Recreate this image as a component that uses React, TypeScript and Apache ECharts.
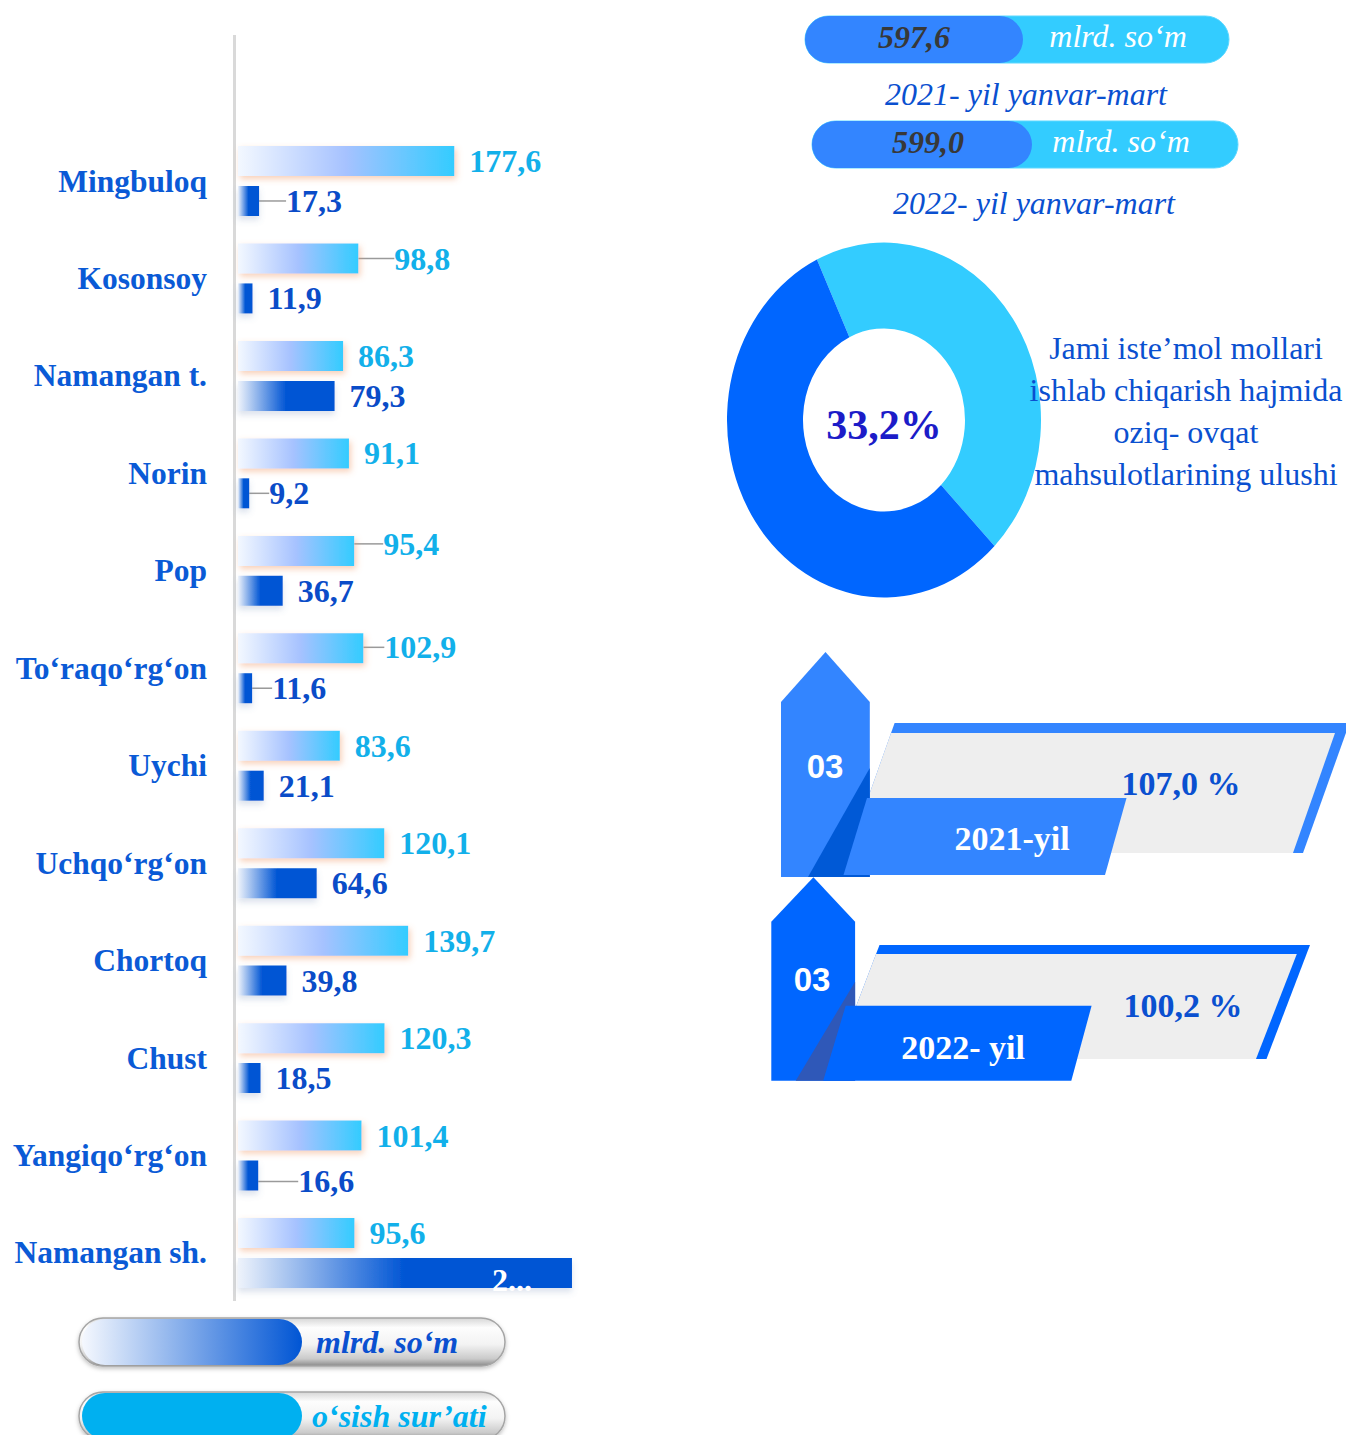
import React, { useEffect, useRef } from 'react';
import * as echarts from 'echarts';

// ---------- data ----------
const categories = [
  'Mingbuloq', 'Kosonsoy', 'Namangan t.', 'Norin', 'Pop', 'To‘raqo‘rg‘on',
  'Uychi', 'Uchqo‘rg‘on', 'Chortoq', 'Chust', 'Yangiqo‘rg‘on', 'Namangan sh.',
];
const growthRate = [177.6, 98.8, 86.3, 91.1, 95.4, 102.9, 83.6, 120.1, 139.7, 120.3, 101.4, 95.6];
const volume = [17.3, 11.9, 79.3, 9.2, 36.7, 11.6, 21.1, 64.6, 39.8, 18.5, 16.6, 274.2];
const legendNames = ['mlrd. so‘m', 'o‘sish sur’ati'];

const shareSlices = [44.6, 55.4]; // light slice, dark slice (as drawn)
const shareLabel = '33,2%';
const shareCaption = ['Jami iste’mol mollari', 'ishlab chiqarish hajmida', 'oziq- ovqat', 'mahsulotlarining ulushi'];

const periodTotals = [597.6, 599.0];
const periodNames = ['2021- yil yanvar-mart', '2022- yil yanvar-mart'];
const unitText = 'mlrd. so‘m';

const monthLabel = '03';
const yearNames = ['2021-yil', '2022- yil'];
const yearRates = [107.0, 100.2];

// label shifts (styling of leader lines), kept apart from the data
const growthShift: Record<number, [number, number]> = { 1: [21, 0], 4: [14, -7], 5: [6, -1] };
const volumeShift: Record<number, [number, number]> = { 0: [12, 0], 3: [5, 0], 5: [5, 0], 10: [25, 6], 11: [0, 7] };

const SERIF = '"Liberation Serif","Times New Roman",serif';
const SANS = '"Liberation Sans",Arial,sans-serif';
const fmt = (v: number) => v.toFixed(1).replace('.', ',');

const txt = (x: number, y: number, text: string, size: number, fill: string, weight = 'normal', fstyle = 'normal', family = SERIF, extra: any = {}) => ({
  type: 'text', x, y, z: 10,
  style: { text, fill, fontSize: size, fontWeight: weight, fontStyle: fstyle, fontFamily: family, align: 'center', verticalAlign: 'middle', ...extra },
});
const poly = (points: number[][], fill: string, z = 5) => ({ type: 'polygon', z, shape: { points }, style: { fill } });

export default function App() {
  const mainRef = useRef<HTMLDivElement>(null);
  const donutRef = useRef<HTMLDivElement>(null);

  useEffect(() => {
    document.body.style.margin = '0';
    const donut = echarts.init(donutRef.current!, null, { renderer: 'svg', width: 400, height: 400 });
    donut.setOption({
      animation: false,
      series: [{
        type: 'pie', radius: [81, 157], center: ['50%', '50%'], startAngle: 115.3, clockwise: true,
        silent: true, label: { show: false }, labelLine: { show: false },
        data: [
          { value: shareSlices[0], name: 'a', itemStyle: { color: '#33ccff' } },
          { value: shareSlices[1], name: 'b', itemStyle: { color: '#0066ff' } },
        ],
      }],
    });

    const chart = echarts.init(mainRef.current!, null, { renderer: 'svg', width: 1346, height: 1435 });

    const growthGrad = new echarts.graphic.LinearGradient(0, 0, 1, 0, [
      { offset: 0, color: '#f3f8ff' }, { offset: 0.5, color: '#a6c2ff' }, { offset: 1, color: '#33ccff' },
    ]);
    const volGrad = new echarts.graphic.LinearGradient(0, 0, 1, 0, [
      { offset: 0, color: '#eef3fb' }, { offset: 0.5, color: '#0055d4' }, { offset: 1, color: '#0055d4' },
    ]);
    const legendDarkGrad = new echarts.graphic.LinearGradient(0, 0, 1, 0, [
      { offset: 0, color: '#f5f8fe' }, { offset: 1, color: '#0055d4' },
    ]);
    const PILL = 'path://M23 0H197A23 23 0 0 1 197 46H23A23 23 0 0 1 23 0Z';

    const glossy = (y: number) => ({
      type: 'rect', z: 0, shape: { x: 79, y, width: 426, height: 48, r: 24 },
      style: {
        fill: new echarts.graphic.LinearGradient(0, 0, 0, 1, [
          { offset: 0, color: '#d6d6d6' }, { offset: 0.2, color: '#fdfdfd' }, { offset: 0.55, color: '#f3f3f3' },
          { offset: 0.85, color: '#cacaca' }, { offset: 1, color: '#8a8a8a' },
        ]),
        stroke: '#a5a5a5', lineWidth: 1.5, shadowBlur: 4, shadowColor: 'rgba(0,0,0,0.25)', shadowOffsetY: 2,
      },
    });

    const pill = (x0: number, y0: number, w: number, split: number, value: number, vx: number, ux: number) => [
      { type: 'rect', z: 5, shape: { x: x0, y: y0, width: w, height: 47, r: 23.5 }, style: { fill: '#33ccff', stroke: '#5cd8ff', lineWidth: 1 } },
      { type: 'rect', z: 6, shape: { x: x0, y: y0, width: split - x0, height: 47, r: 23.5 }, style: { fill: '#3385ff' } },
      txt(vx, y0 + 21, fmt(value), 32, '#383838', 'bold', 'italic'),
      txt(ux, y0 + 20, unitText, 32, '#ffffff', 'normal', 'italic'),
    ];

    const graphic: any[] = [
      { type: 'line', z: 1, shape: { x1: 234.5, y1: 35, x2: 234.5, y2: 1301 }, style: { stroke: '#d9d9d9', lineWidth: 3 } },
      glossy(1318), glossy(1392),
      ...pill(805, 16, 424, 1023, periodTotals[0], 914, 1118),
      txt(1026, 94, periodNames[0], 32, '#0a50d0', 'normal', 'italic'),
      ...pill(812, 121, 426, 1032, periodTotals[1], 928, 1121),
      txt(1034, 203, periodNames[1], 32, '#0a50d0', 'normal', 'italic'),
      txt(884, 425, shareLabel, 42, '#1c1cc8', 'bold'),
      txt(1186, 411, shareCaption.join('\n'), 32, '#0a50d0', 'normal', 'normal', SERIF, { lineHeight: 42 }),
      // block 2021
      poly([[894.6, 723], [1349.5, 723], [1303, 853], [848.5, 853]], '#3385ff', 3),
      poly([[891, 733], [1335, 733], [1293, 853], [848.5, 853]], '#eeeeee', 4),
      poly([[781, 877], [781, 702], [825.5, 652], [869.8, 702], [869.8, 877]], '#3385ff', 5),
      poly([[869.8, 768], [808, 877], [869.8, 877]], '#0059d6', 6),
      poly([[867, 798], [1126.5, 798], [1105, 875], [843.5, 875]], '#3385ff', 7),
      txt(825, 766, monthLabel, 33, '#ffffff', 'bold', 'normal', SANS),
      txt(1012, 838, yearNames[0], 34, '#ffffff', 'bold'),
      txt(1181, 783, fmt(yearRates[0]) + ' %', 34, '#0a50d0', 'bold'),
      // block 2022
      poly([[879.5, 945], [1310, 945], [1266.5, 1059], [836, 1059]], '#0066ff', 3),
      poly([[876, 954], [1296.8, 954], [1256, 1059], [836, 1059]], '#eeeeee', 4),
      poly([[771.3, 1080.7], [771.3, 921.7], [813.4, 877.3], [855.1, 921.7], [855.1, 1080.7]], '#0066ff', 5),
      poly([[855.1, 981.7], [795.7, 1080.7], [855.1, 1080.7]], '#2f58b8', 6),
      poly([[845.7, 1005.7], [1091.6, 1005.7], [1071.3, 1080.7], [823.2, 1080.7]], '#0066ff', 7),
      txt(812, 979, monthLabel, 33, '#ffffff', 'bold', 'normal', SANS),
      txt(963, 1047, yearNames[1], 34, '#ffffff', 'bold'),
      txt(1183, 1005, fmt(yearRates[1]) + ' %', 34, '#0a50d0', 'bold'),
    ];

    const labelBase = { show: true, position: 'right', distance: 15, fontFamily: SERIF, fontWeight: 'bold', fontSize: 32, formatter: (p: any) => fmt(p.value) };
    const lineStyle = { color: '#9a9a9a', width: 1.5 };

    chart.setOption({
      animation: false,
      grid: { left: 238, top: 132.3, width: 365.4, height: 1169.4 },
      xAxis: { type: 'value', min: 0, max: 300, show: false },
      yAxis: {
        type: 'category', data: categories, inverse: true,
        axisLine: { show: false }, axisTick: { show: false }, splitLine: { show: false },
        axisLabel: { margin: 31, color: '#0a5ad6', fontFamily: SERIF, fontWeight: 'bold', fontSize: 31.5 },
      },
      legend: {
        orient: 'vertical', left: 82, top: 1319, height: 200, padding: 0,
        itemWidth: 220, itemHeight: 46, itemGap: 28, selectedMode: false, z: 8,
        itemStyle: { shadowBlur: 0, shadowColor: 'rgba(0,0,0,0)', borderWidth: 0 },
        textStyle: { fontFamily: SERIF, fontSize: 32, fontWeight: 'bold', fontStyle: 'italic', padding: [0, 0, 0, 9] },
        data: [
          { name: legendNames[0], icon: PILL, itemStyle: { color: legendDarkGrad }, textStyle: { color: '#0a50d0' } },
          { name: legendNames[1], icon: PILL, itemStyle: { color: '#00b0f0' }, textStyle: { color: '#00b0f0', padding: [0, 0, 0, 5] } },
        ],
      },
      series: [
        {
          name: legendNames[1], type: 'bar', barWidth: 30, barGap: '33%',
          data: growthRate.map((v, i) => ({ value: v, labelLine: { show: !!growthShift[i] } })),
          itemStyle: { color: growthGrad, shadowColor: 'rgba(240,150,100,0.45)', shadowBlur: 6, shadowOffsetY: 3, shadowOffsetX: 2 },
          label: { ...labelBase, color: '#12b0ea' },
          labelLine: { show: false, lineStyle },
          labelLayout: (p: any) => { const s = growthShift[p.dataIndex]; return s ? { dx: s[0], dy: s[1] } : {}; },
        },
        {
          name: legendNames[0], type: 'bar', barWidth: 30, barGap: '33%',
          data: volume.map((v, i) => v > 200
            ? { value: v, labelLine: { show: false }, label: { position: 'insideRight', distance: 40, color: '#ffffff', width: 46, overflow: 'truncate', ellipsis: '...' } }
            : { value: v, labelLine: { show: !!volumeShift[i] } }),
          itemStyle: { color: volGrad, shadowColor: 'rgba(90,120,170,0.22)', shadowBlur: 6, shadowOffsetY: 4 },
          label: { ...labelBase, color: '#0a4cc8' },
          labelLine: { show: false, lineStyle },
          labelLayout: (p: any) => { const s = volumeShift[p.dataIndex]; return s ? { dx: s[0], dy: s[1] } : {}; },
        },
      ],
      graphic,
    });

    return () => { chart.dispose(); donut.dispose(); };
  }, []);

  return (
    <div style={{ position: 'relative', width: 1346, height: 1435, overflow: 'hidden', background: '#ffffff' }}>
      <div ref={donutRef} style={{ position: 'absolute', left: 684, top: 220, width: 400, height: 400, transform: 'scaleY(1.13)', transformOrigin: '50% 50%' }} />
      <div ref={mainRef} style={{ position: 'absolute', left: 0, top: 0, width: 1346, height: 1435 }} />
    </div>
  );
}
